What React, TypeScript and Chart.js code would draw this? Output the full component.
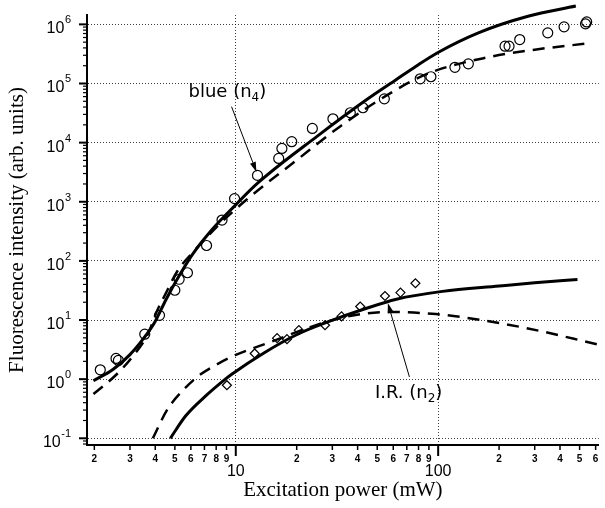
import React, { useEffect, useRef } from 'react';
import { Chart, registerables } from 'chart.js';

Chart.register(...registerables);

// ---- measured data (blue, n4) ----
const blueDataX = [2.14, 2.56, 2.63, 3.55, 4.2, 5.0, 5.25, 5.77, 7.17, 8.55, 9.86, 12.8, 16.3, 16.9, 18.9, 23.9, 30.2, 36.8, 42.5, 54.2, 81.5, 92.1, 121, 141, 214, 224, 253, 348, 419, 535, 542];
const blueDataY = [1.44, 2.24, 2.07, 5.76, 12, 31.9, 48.9, 63, 182, 491, 1130, 2790, 5400, 7970, 10360, 17380, 25300, 32000, 38900, 55000, 120000, 130000, 188000, 215000, 427000, 427000, 553000, 718000, 908000, 1020000, 1100000];

// ---- measured data (I.R., n2) ----
const irDataX = [9.04, 12.4, 16.0, 17.9, 20.5, 27.6, 33.3, 41.2, 54.6, 65.1, 77.2];
const irDataY = [0.79, 2.72, 4.93, 4.74, 6.73, 8.17, 11.5, 16.9, 25.5, 29.1, 41.9];

// ---- model curves ----
const blueFitX = [1.98, 2.48, 3.0, 3.48, 3.97, 4.53, 5.25, 6.1, 7.64, 9.93, 12.9, 25.3, 44.4, 62.2, 77.8, 99.3, 158, 278, 479];
const blueFitY = [0.94, 1.47, 2.6, 4.74, 9.07, 22.5, 56, 128, 340, 870, 2100, 12900, 53600, 117000, 196000, 331000, 718000, 1370000, 2040000];

const blueAltX = [1.98, 2.58, 3.11, 3.7, 4.05, 4.53, 5.15, 6.22, 8.2, 11.1, 20.2, 32.9, 62.2, 90.6, 171, 300, 557];
const blueAltY = [0.56, 1.21, 2.48, 6.0, 13.4, 29, 67.5, 147, 400, 1030, 5200, 19000, 79000, 151000, 272000, 373000, 480000];

const irFitX = [4.75, 5.66, 7.1, 8.88, 9.55, 13.9, 20.2, 29.4, 42.8, 62.2, 105, 200, 300, 488];
const irFitY = [0.1, 0.24, 0.52, 1.0, 1.21, 2.83, 5.75, 9.66, 15.2, 22.5, 30.5, 37.5, 42.5, 48.5];

const irAltX = [3.89, 4.6, 5.56, 6.58, 8.0, 9.93, 15, 22.6, 35.5, 57.7, 97.5, 131.5, 278, 608];
const irAltY = [0.1, 0.31, 0.68, 1.15, 1.75, 2.54, 4.3, 7.3, 11.5, 13.7, 12.6, 11.2, 7.2, 3.9];

// ---- axes ----
const xMin = 1.84;
const xMax = 622;
const yMin = 0.077;
const yMax = 1.44e6;
const xMajorTicks = [10, 100];
const xMajorLabels = ['10', '100'];
const xMinorTicks = [2, 3, 4, 5, 6, 7, 8, 9, 20, 30, 40, 50, 60, 70, 80, 90, 200, 300, 400, 500, 600];
const xMinorLabels = ['2', '3', '4', '5', '6', '7', '8', '9', '2', '3', '4', '5', '6', '7', '8', '9', '2', '3', '4', '5', '6'];
const yExponents = [-1, 0, 1, 2, 3, 4, 5, 6];
const yMinorMultipliers = [2, 3, 4, 5, 6, 7, 8, 9];

// ---- annotations ----
const blueLabel = { x: 5.84, y: 60000, main: 'blue (n', sub: '4', tail: ')' };
const blueArrow = { fromX: 9.53, fromY: 40600, toX: 12.65, toY: 3190 };
const irLabel = { x: 48.7, y: 0.475, main: 'I.R. (n', sub: '2', tail: ')' };
const irArrow = { fromX: 72.1, fromY: 1.09, toX: 56.4, toY: 19.4 };

const SANS = '"Liberation Sans", Arial, sans-serif';
const ANNO = '"DejaVu Sans", sans-serif';
const SERIF = '"Liberation Serif", "Times New Roman", serif';

const pts = (xs: number[], ys: number[]) => xs.map((x, i) => ({ x, y: ys[i] }));

const decor = {
  id: 'decor',
  afterDraw(chart: any) {
    const { ctx, chartArea, scales } = chart;
    const xs = scales.x;
    const ys = scales.y;
    const by = chartArea.bottom;
    const lx = chartArea.left;
    ctx.save();
    ctx.strokeStyle = '#000';
    ctx.fillStyle = '#000';

    const seg = (x1: number, y1: number, x2: number, y2: number, w: number) => {
      ctx.lineWidth = w;
      ctx.beginPath();
      ctx.moveTo(x1, y1);
      ctx.lineTo(x2, y2);
      ctx.stroke();
    };

    // x ticks
    xMinorTicks.forEach((v) => {
      const px = xs.getPixelForValue(v);
      seg(px, by, px, by + 5, 1.5);
    });
    xMajorTicks.forEach((v) => {
      const px = xs.getPixelForValue(v);
      seg(px, by, px, by + 11, 2);
    });
    ctx.textAlign = 'center';
    ctx.textBaseline = 'middle';
    ctx.font = 'bold 10px ' + SANS;
    xMinorTicks.forEach((v, i) => {
      const px = xs.getPixelForValue(v);
      ctx.fillText(xMinorLabels[i], px, by + 14);
    });
    ctx.font = '16px ' + SANS;
    xMajorTicks.forEach((v, i) => {
      const px = xs.getPixelForValue(v);
      ctx.fillText(xMajorLabels[i], px, by + 27);
    });

    // y ticks
    for (let k = -2; k <= 6; k++) {
      yMinorMultipliers.forEach((m) => {
        const v = m * Math.pow(10, k);
        if (v < yMin || v > yMax) return;
        const py = ys.getPixelForValue(v);
        seg(lx - 4, py, lx + 1, py, 1.2);
      });
    }
    yExponents.forEach((k) => {
      const py = ys.getPixelForValue(Math.pow(10, k));
      seg(lx - 8, py, lx + 1, py, 2);
    });
    ctx.textBaseline = 'alphabetic';
    ctx.textAlign = 'left';
    const rightEdge = lx - 16;
    yExponents.forEach((k) => {
      const py = ys.getPixelForValue(Math.pow(10, k));
      const ex = String(k);
      ctx.font = '11px ' + SANS;
      const ew = ctx.measureText(ex).width;
      ctx.fillText(ex, rightEdge - ew, py - 1);
      ctx.font = '16px ' + SANS;
      const bw = ctx.measureText('10').width;
      ctx.fillText('10', rightEdge - ew - bw - 0.5, py + 9);
    });

    // annotations
    const label = (a: any) => {
      const x0 = xs.getPixelForValue(a.x);
      const y0 = ys.getPixelForValue(a.y);
      ctx.font = '18px ' + ANNO;
      ctx.fillText(a.main, x0, y0);
      let w = ctx.measureText(a.main).width;
      ctx.font = '12px ' + ANNO;
      ctx.fillText(a.sub, x0 + w, y0 + 4);
      w += ctx.measureText(a.sub).width;
      ctx.font = '18px ' + ANNO;
      ctx.fillText(a.tail, x0 + w, y0);
    };
    const arrow = (a: any) => {
      const x1 = xs.getPixelForValue(a.fromX);
      const y1 = ys.getPixelForValue(a.fromY);
      const x2 = xs.getPixelForValue(a.toX);
      const y2 = ys.getPixelForValue(a.toY);
      const ang = Math.atan2(y2 - y1, x2 - x1);
      const L = 10;
      const W = 3;
      const bx = x2 - L * Math.cos(ang);
      const byy = y2 - L * Math.sin(ang);
      seg(x1, y1, bx, byy, 1);
      ctx.beginPath();
      ctx.moveTo(x2, y2);
      ctx.lineTo(bx + W * Math.sin(ang), byy - W * Math.cos(ang));
      ctx.lineTo(bx - W * Math.sin(ang), byy + W * Math.cos(ang));
      ctx.closePath();
      ctx.fill();
    };
    label(blueLabel);
    arrow(blueArrow);
    label(irLabel);
    arrow(irArrow);
    ctx.restore();
  },
};

export default function App() {
  const ref = useRef<HTMLCanvasElement>(null);
  useEffect(() => {
    const lineBase = {
      showLine: true,
      pointRadius: 0,
      borderColor: '#000',
      backgroundColor: '#000',
      cubicInterpolationMode: 'monotone' as const,
      fill: false,
    };
    const chart = new Chart(ref.current as HTMLCanvasElement, {
      type: 'scatter',
      data: {
        datasets: [
          { ...lineBase, label: 'blue fit', data: pts(blueFitX, blueFitY), borderWidth: 3, clip: false as any },
          { ...lineBase, label: 'blue alt', data: pts(blueAltX, blueAltY), borderWidth: 2.5, borderDash: [12, 8] },
          { ...lineBase, label: 'IR fit', data: pts(irFitX, irFitY), borderWidth: 3 },
          { ...lineBase, label: 'IR alt', data: pts(irAltX, irAltY), borderWidth: 2.5, borderDash: [12, 8] },
          {
            label: 'blue (n4)',
            data: pts(blueDataX, blueDataY),
            pointStyle: 'circle',
            pointRadius: 5,
            borderWidth: 1.2,
            borderColor: '#000',
            backgroundColor: 'rgba(0,0,0,0)',
          },
          {
            label: 'I.R. (n2)',
            data: pts(irDataX, irDataY),
            pointStyle: 'rectRot',
            pointRadius: 4.5,
            borderWidth: 1.2,
            borderColor: '#000',
            backgroundColor: 'rgba(0,0,0,0)',
          },
        ],
      },
      options: {
        responsive: false,
        animation: false,
        devicePixelRatio: 1,
        layout: { padding: { top: 15, right: 0, left: 0, bottom: 0 } },
        plugins: { legend: { display: false }, tooltip: { enabled: false } },
        scales: {
          x: {
            type: 'logarithmic',
            min: xMin,
            max: xMax,
            bounds: 'data',
            ticks: { display: false },
            afterBuildTicks: (s: any) => {
              s.ticks = xMajorTicks.map((v) => ({ value: v, major: true }));
            },
            afterFit: (s: any) => {
              s.height = 63;
            },
            grid: { color: 'rgba(0,0,0,0.75)', lineWidth: 1, drawTicks: false },
            border: { display: true, color: '#000', width: 2, dash: [1, 2] },
            title: {
              display: true,
              text: 'Excitation power (mW)',
              color: '#000',
              font: { family: SERIF, size: 21 },
              padding: { top: 0, bottom: 5 },
            },
          },
          y: {
            type: 'logarithmic',
            min: yMin,
            max: yMax,
            bounds: 'data',
            ticks: { display: false },
            afterBuildTicks: (s: any) => {
              s.ticks = yExponents.map((k) => ({ value: Math.pow(10, k), major: true }));
            },
            afterFit: (s: any) => {
              s.width = 87;
            },
            grid: { color: 'rgba(0,0,0,0.75)', lineWidth: 1, drawTicks: false },
            border: { display: true, color: '#000', width: 2, dash: [1, 2] },
            title: {
              display: true,
              text: 'Fluorescence intensity (arb. units)',
              color: '#000',
              font: { family: SERIF, size: 21 },
              padding: { top: 5, bottom: 0 },
            },
          },
        },
      } as any,
      plugins: [decor],
    });
    return () => chart.destroy();
  }, []);
  return (
    <div style={{ position: 'absolute', left: 0, top: 0, width: 605, height: 508, background: '#fff' }}>
      <canvas ref={ref} width={605} height={508} style={{ display: 'block' }} />
    </div>
  );
}
